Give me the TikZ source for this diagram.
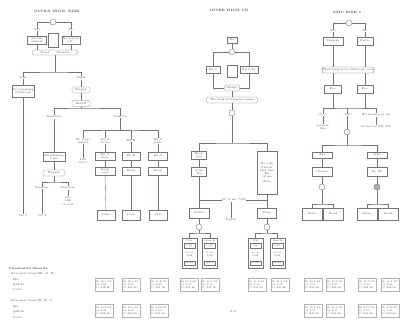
\documentclass[tikz,border=0pt]{standalone}
\usetikzlibrary{calc}
\definecolor{ln}{RGB}{125,112,125}
\definecolor{tx}{RGB}{80,70,80}
\tikzset{
 every node/.style={font=\fontsize{2.8}{3.2}\selectfont, text=tx, inner sep=0.4pt, align=center},
 sz/.style n args={2}{minimum width=#1pt, minimum height=#2pt},
 box/.style={draw=ln, line width=0.35pt, fill=white},
 rbox/.style={box, rounded corners=1.5pt},
 dot/.style={circle, draw=ln, line width=0.35pt, minimum size=6pt, inner sep=0pt, fill=white},
 lbl/.style={fill=white, inner sep=0.3pt},
 conn/.style={draw=ln, line width=0.35pt},
 res/.style={draw=ln!55, line width=0.3pt, minimum width=18pt, minimum height=13pt, align=left, font=\fontsize{2.4}{3.1}\selectfont},
 hd/.style={font=\fontsize{3.2}{3.8}\selectfont\bfseries},
 tall/.style={box, sz={15}{30}, anchor=center},
 inbox/.style={draw=ln, line width=0.3pt, sz={11}{4.5}, font=\fontsize{2.2}{2.6}\selectfont},
}
\begin{document}
\begin{tikzpicture}[x=1pt,y=-1pt]
\useasboundingbox (0,0) rectangle (400,329);

% ================= SECTION 1 =================
\node[hd] (t1) at (57,12) {ULTRA HIGH, RISK};
\node[dot] (c1) at (53,22) {};
\node[box,sz={19}{8}] (b1a) at (37,40) {Screen\\ annual};
\node[box,sz={18}{8}] (b1b) at (71,40) {No screen\\ ref.};
\node[box,sz={10}{14}] (q1) at (53,40) {};
\node[rbox,sz={45}{5}] (r1) at (55,52.5) {Treat \qquad Observe};
\draw[conn] (c1) -| (b1a);
\draw[conn] (c1) -| (b1b);
\draw[conn] (b1a) -- (b1a |- r1.north);
\draw[conn] (b1b) -- (b1b |- r1.north);

\coordinate (j1) at (55,72);
\node[box,sz={20}{12}] (b1c) at (23,91) {No screening\\ follow-up};
\node[rbox,sz={18}{6}] (b1d) at (81,90) {Biopsy};
\node[rbox,sz={18}{6}] (b1e) at (81,103.5) {Result};
\draw[conn] (r1) -- (j1);
\draw[conn] (b1c) |- (j1) -| (b1d);
\draw[conn] (b1d) -- (b1e);

\coordinate (j2) at (81,108);
\coordinate (j3) at (120,130);
\node[box,sz={22}{9}] (b1f) at (54,157) {Surveillance\\ 6 mo};
\node[rbox,sz={22}{6}] (b1g) at (54,173) {Repeat};
\draw[conn] (b1e) -- (j2);
\draw[conn] (b1f) |- (j2) -| (j3);
\draw[conn] (b1f) -- (b1g);

\coordinate (j4) at (54,182);
\node (e1) at (23,216) {No 1};
\node (e2) at (42,216) {No 2};
\node (e3) at (68,201) {Pos\\ chk\\ re-eval};
\draw[conn] (b1c) -- (e1);
\draw[conn] (b1g) -- (j4);
\draw[conn] (e2) |- (j4) -| (e3);

% four sub-branches
\node (e4) at (83,161) {Ind\\ No 1};
\node[box,sz={20}{8}] (b1h) at (105,156) {Rx A\\ dose};
\node[box,sz={20}{8}] (b1i) at (105,171) {Resp\\ eval};
\node[box,sz={18}{10}] (b1j) at (106,215) {Cure};
\node[box,sz={18}{8}] (b1k) at (131,156) {Rx B};
\node[box,sz={18}{8}] (b1l) at (131,171) {Resp};
\node[box,sz={18}{10}] (b1m) at (131,215) {Cure};
\node[box,sz={19}{8}] (b1n) at (158,156) {Rx C};
\node[box,sz={19}{8}] (b1o) at (158,171) {Resp};
\node[box,sz={18}{10}] (b1p) at (158,215) {Cure};
\draw[conn] (e4) |- (j3) -| (b1n);
\draw[conn] (b1h) |- (j3);
\draw[conn] (b1k) |- (j3);
\draw[conn] (b1h) -- (b1i); \draw[conn] (b1i) -- (b1j);
\draw[conn] (b1k) -- (b1l); \draw[conn] (b1l) -- (b1m);
\draw[conn] (b1n) -- (b1o); \draw[conn] (b1o) -- (b1p);

% labels section 1
\node[lbl] at (37,30) {Yes};
\node[lbl] at (71,30) {No};
\node[lbl] at (23,78) {Low};
\node[lbl] at (81,78) {High};
\node[lbl] at (54,117) {Negative};
\node[lbl] at (120,117) {Positive};
\node[lbl] at (42,188) {Positive};
\node[lbl] at (68,188) {Negative};
\node[lbl] at (83,141) {No treat\\ initial};
\node[lbl] at (105,141) {Rx A\\ 12 mo};
\node[lbl] at (131,141) {Rx B};
\node[lbl] at (158,141) {Rx C\\ 6 mo};

% ================= SECTION 2 =================
\node[hd] (t2) at (229,10) {INTER HIGH TB};
\node[box,sz={10}{6}] (b2a) at (232,40) {Dx};
\node[dot] (c2) at (232,52) {};
\node[box,sz={14}{7}] (b2b) at (213,70) {Rx 1};
\node[box,sz={18}{7}] (b2c) at (249,70) {Rx 2 alt};
\node[box,sz={10}{12}] (q2) at (232,71) {};
\node[rbox,sz={15}{6}] (r2a) at (232,88) {Merge};
\node[rbox,sz={51}{6}] (r2b) at (232,100) {The long treatment course};
\node[dot] (c2b) at (232,113) {};
\draw[conn] (b2a) -- (c2);
\draw[conn] (c2) -| (b2b);
\draw[conn] (c2) -| (b2c);
\draw[conn] (b2b) |- (r2a);
\draw[conn] (b2c) |- (r2a);
\draw[conn] (r2a) -- (r2b);
\draw[conn] (r2b) -- (c2b);

\coordinate (k1) at (232,143);
\node[box,sz={15}{8}] (b2d) at (199,155) {Resp\\ yes};
\node[box,sz={15}{9}] (b2e) at (199,172) {Cont\\ Rx};
\node[box,sz={20}{43}] (b2f) at (267,173) {No resp\\ Switch\\ 2nd line\\ Rx\\ 12 mo\\[2pt] Eval};
\draw[conn] (c2b) -- (k1);
\draw[conn] (b2d) |- (k1) -| (b2f);
\draw[conn] (b2d) -- (b2e);

\node[box,sz={20}{10}] (b2g) at (199,213) {Stable};
\node[box,sz={19}{10}] (b2h) at (267,213) {Prog};
\node (e5) at (231,220) {Death};
\draw[conn] (b2e) -- (b2g);
\draw[conn] (b2f) -- (b2h);
\draw[conn] (b2e |- 0,200) -- (b2f |- 0,200);
\draw[conn] (231,200) -- (e5);
\node[lbl] (w2) at (234,200) {W: 6 mo, 50\%};

\node[dot] (c2c) at (199,227) {};
\node[dot] (c2d) at (267,227) {};
\coordinate (k3) at (199,233);
\coordinate (k4) at (267,233);
\node[tall] (u1) at (189.5,253) {}; 
\node[tall] (u2) at (210,253) {};
\node[tall] (u3) at (255.5,253) {};
\node[tall] (u4) at (277.5,253) {};
\draw[conn] (b2g) -- (c2c); \draw[conn] (c2c) -- (k3);
\draw[conn] (b2h) -- (c2d); \draw[conn] (c2d) -- (k4);
\draw[conn] (u1) |- (k3) -| (u2);
\draw[conn] (u3) |- (k4) -| (u4);
\foreach \n/\a in {u1/Ctrl, u2/Arm B, u3/Ctrl, u4/Arm B}{
  \node[font=\fontsize{2.4}{2.9}\selectfont] at ($(\n.north)+(0,3)$) {\a};
  \node[inbox] at ($(\n.north)+(0,8)$) {0.42};
  \node[font=\fontsize{2.2}{2.7}\selectfont] at ($(\n.center)+(0,1.5)$) {3.1 yr\\ \$12k};
  \node[inbox] at ($(\n.south)+(0,-5)$) {QALY};
}

% ================= SECTION 3 =================
\node[hd] (t3) at (347,12) {MRC RISK 1};
\node[dot] (c3) at (349,23) {};
\node[box,sz={20}{8}] (b3a) at (333,41) {Surgery};
\node[box,sz={16}{8}] (b3b) at (365,41) {Radio};
\draw[conn] (c3) -| (b3a);
\draw[conn] (c3) -| (b3b);
\node[rbox,sz={51}{6}] (r3) at (348,70) {Then long-term follow-up care};
\node[box,sz={17}{8}] (b3c) at (333,89) {Rec};
\node[box,sz={16}{8}] (b3d) at (365,89) {Rec};
\draw[conn] (b3a) -- (b3a |- r3.north);
\draw[conn] (b3b) -- (b3b |- r3.north);
\draw[conn] (b3a |- r3.south) -- (b3c);
\draw[conn] (b3b |- r3.south) -- (b3d);

\coordinate (m1) at (349,108);
\node (e6) at (323,127) {relapse\\ free};
\node (e7) at (376,127) {20 mo to 30\% dth};
\node[dot] (c3b) at (347,132) {};
\draw[conn] (b3c) -- (b3c |- m1);
\draw[conn] (b3d) -- (b3d |- m1);
\draw[conn] (e6) |- (m1) -| (e7);
\draw[conn] (c3b) -- (c3b |- m1);

\coordinate (m2) at (347,145);
\node[box,sz={20}{6}] (b3e) at (322,155) {Adj};
\node[box,sz={20}{9}] (b3f) at (322,172) {Chemo};
\node[dot] (c3c) at (322,187) {};
\node[box,sz={20}{6}] (b3g) at (377,155) {Obs};
\node[box,sz={20}{9}] (b3h) at (377,172) {No Rx};
\node[dot,fill=ln!60] (c3d) at (377,187) {};
\draw[conn] (c3b) -- (m2);
\draw[conn] (b3e) |- (m2) -| (b3g);
\draw[conn] (b3e) -- (b3f); \draw[conn] (b3f) -- (c3c);
\draw[conn] (b3g) -- (b3h); \draw[conn] (b3h) -- (c3d);

\coordinate (m3) at (322,204);
\coordinate (m4) at (377,204);
\node[box,sz={20}{12}] (f1) at (312,214) {Alive};
\node[box,sz={20}{12}] (f2) at (333,214) {Dead};
\node[box,sz={20}{12}] (f3) at (367,214) {Alive};
\node[box,sz={20}{12}] (f4) at (388,214) {Dead};
\draw[conn] (c3c) -- (m3); \draw[conn] (c3d) -- (m4);
\draw[conn] (f1) |- (m3) -| (f2);
\draw[conn] (f3) |- (m4) -| (f4);

\node[lbl] at (333,31) {Yes};
\node[lbl] at (365,31) {No};
\node[lbl] at (323,115) {N\_1};
\node[lbl] at (348,115) {Ind};
\node[lbl] at (376,115) {Recurrence at 2y};

% ================= BOTTOM =================
\node[anchor=west, font=\fontsize{3}{3.6}\selectfont\bfseries] (h1) at (8,268) {Cumulative Results};
\node[anchor=west] (h2) at (10,274) {Outcomes from HR (A, B)};
\node[anchor=west] (h3) at (12,280) {LYs};
\node[anchor=west] (h4) at (12,285) {QALYs};
\node[anchor=west] (h5) at (12,290) {Costs};
\node[anchor=west] (h6) at (10,301) {Outcomes from IR (B, C)};
\node[anchor=west] (h7) at (12,307) {LYs};
\node[anchor=west] (h8) at (12,312) {QALYs};
\node[anchor=west] (h9) at (12,318) {Costs};

\foreach \x/\a/\b/\c [count=\i] in {104/12.4/9.81/48.2, 131/12.1/9.60/44.9, 159/11.8/9.42/41.7, 189/12.6/9.95/52.3, 210/12.2/9.70/47.1, 257/11.9/9.44/45.6, 280/11.5/9.12/40.8, 313/12.8/10.1/55.0, 335/12.3/9.77/49.4, 367/11.7/9.30/43.2, 390/11.2/8.96/39.5}{
  \node[res] (ra\i) at (\x,285) {E: \a\ LY\\ Q: \b\\ C: \$\c k};
}
\foreach \x/\a/\b/\c [count=\i] in {104/10.4/8.21/38.2, 131/10.1/8.02/35.9, 159/9.86/7.84/33.1, 313/10.8/8.55/42.7, 335/10.3/8.17/39.8, 367/9.71/7.75/36.4, 390/9.30/7.41/32.9}{
  \node[res] (rb\i) at (\x,311) {E: \a\ LY\\ Q: \b\\ C: \$\c k};
}
\node (pg) at (233,312) {S-3};
\end{tikzpicture}
\end{document}
